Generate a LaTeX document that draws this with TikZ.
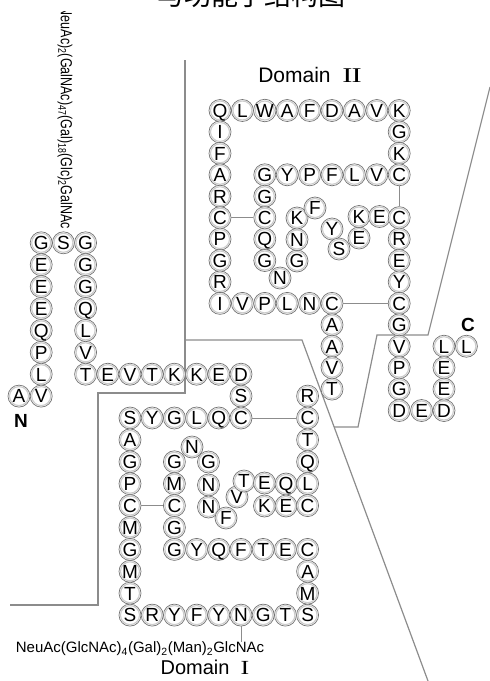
\documentclass[tikz,border=0pt]{standalone}
\usepackage{fontspec}
\usepackage{graphicx}
\setmainfont{Liberation Sans}
\newfontfamily\cjk{Noto Sans CJK SC}
\newfontfamily\serifroman{Liberation Serif}
\newfontfamily\narrowf[FakeStretch=0.78]{Liberation Sans}
\newcommand{\romtwo}{{\serifroman\scalebox{1.45}[1]{I\kern-0.6pt I}}}
\newcommand{\romone}{{\serifroman\scalebox{1.3}[1]{I}}}
\newcommand{\resid}[4]{\node[res] (#1) at (#2,#3) {#4};}
\newcommand{\dII}[4]{\node[res] (#1) at ({220+22.4*(#2)},{110.5+21.43*(#3)}) {#4};}
\newcommand{\dI}[4]{\node[res] (#1) at ({130+22.2*(#2)},{418+21.9*(#3)}) {#4};}
\tikzset{
 res/.style={circle, minimum size=22pt, inner sep=0pt, fill=white, draw=black!55, line width=0.7pt,
   font=\fontsize{19}{19}\selectfont, text height=13.6pt, text depth=0pt,
   path picture={\draw[black!20, line width=1.1pt] (path picture bounding box.center) circle (9.5pt);}},
 bnd/.style={draw=black!45, line width=1.2pt},
 ss/.style={draw=black!45, line width=0.9pt},
 lbl/.style={font=\bfseries\fontsize{19}{19}\selectfont},
}
\begin{document}
\begin{tikzpicture}[x=1pt,y=-1pt]
\useasboundingbox (0,0) rectangle (490,681);
% title (cut at top)
\node[font=\cjk\fontsize{27}{27}\selectfont, anchor=base] (title) at (251.5,5) {与功能子结构图};
% boundary lines
\coordinate (p1) at (185,60);
\coordinate (p2) at (185,393);
\coordinate (p3) at (98,393);
\coordinate (p4) at (98,605);
\coordinate (p5) at (10,605);
\coordinate (q1) at (185,340);
\coordinate (q2) at (302,340);
\coordinate (q3) at (428,681);
\coordinate (r1) at (490,87);
\coordinate (r2) at (428,335);
\coordinate (r3) at (377,335);
\coordinate (r4) at (358,427);
\coordinate (r5) at (334,427);
\draw[bnd] (p1) -- (p2) -- (p3) -- (p4) -- (p5);
\draw[bnd] (q1) -- (q2) -- (q3);
\draw[bnd] (r1) -- (r2) -- (r3) -- (r4) -- (r5);
% labels
\node[font=\fontsize{21}{21}\selectfont] (dom2) at (310,75) {Domain\ \ \romtwo};
\node[font=\fontsize{20}{20}\selectfont] (dom1) at (205,667) {Domain\ \ \romone};
\node[lbl] (nlab) at (21,421) {N};
\node[lbl] (clab) at (468,325) {C};
% glycans
\begin{scope}
\clip (0,11) rectangle (490,681);
\node[rotate=-90, anchor=east, inner sep=0pt, font=\narrowf\fontsize{16}{16}\selectfont] (oglyc) at (65,229)
  {(NeuAc)\textsubscript{2}(GalNAc)\textsubscript{47}(Gal)\textsubscript{18}(Glc)\textsubscript{2}GalNAc};
\end{scope}
\node[inner sep=0pt, font=\fontsize{15}{15}\selectfont] (nglyc) at (140,649)
  {NeuAc(GlcNAc)\textsubscript{4}(Gal)\textsubscript{2}(Man)\textsubscript{2}GlcNAc};
% ---------------- Domain II ----------------
\foreach \l [count=\i from 0] in {Q,L,W,A,F,D,A,V,K} {\dII{t\i}{\i}{0}{\l}}
\foreach \l [count=\i from 1] in {G,K,C} {\dII{rc\i}{8}{\i}{\l}}
\foreach \l [count=\i from 2] in {G,Y,P,F,L,V} {\dII{m\i}{\i}{3}{\l}}
\foreach \l [count=\i from 1] in {I,F,A,R,C,P,G,R} {\dII{lc\i}{0}{\i}{\l}}
\foreach \l [count=\i from 0] in {I,V,P,L,N,C} {\dII{bt\i}{\i}{9}{\l}}
\foreach \l [count=\i from 4] in {G,C,Q,G} {\dII{ic\i}{2}{\i}{\l}}
\resid{f2}{297}{261}{G}
\resid{f1}{280}{278}{N}
\resid{f3}{297}{239.5}{N}
\resid{f4}{297}{218}{K}
\resid{f5}{315}{208}{F}
\resid{f6}{332}{229}{Y}
\resid{f7}{339}{249}{S}
\resid{f8}{359}{238}{E}
\resid{f9}{359}{216.5}{K}
\resid{f10}{379.5}{216.5}{E}
\foreach \l [count=\i from 5] in {C,R,E,Y,C,G,V,P,G,D} {\dII{rd\i}{8}{\i}{\l}}
\dII{ee9}{9}{14}{E}
\dII{ee10}{10}{14}{D}
\foreach \l [count=\i from 11] in {L,E,E} {\dII{cc\i}{10}{\i}{\l}}
\dII{ll11}{11}{11}{L}
\foreach \l [count=\i from 10] in {A,A,V,T} {\dII{ac\i}{5}{\i}{\l}}
% ---------------- Domain I / N-terminal ----------------
\foreach \l [count=\i from 1] in {G,E,E,E,Q,P,L,V} {\dI{na\i}{-4}{\i-9}{\l}}
\dI{ns}{-3}{-8}{S}
\dI{nav}{-5}{-1}{A}
\foreach \l [count=\i from 1] in {G,G,G,Q,L,V,T} {\dI{nb\i}{-2}{\i-9}{\l}}
\foreach \l [count=\i from 1] in {E,V,T,K,K,E,D} {\dI{nr\i}{\i-2}{-2}{\l}}
\dI{sd}{5}{-1}{S}
\foreach \l [count=\i from 0] in {S,Y,G,L,Q,C} {\dI{a\i}{\i}{0}{\l}}
\foreach \l [count=\i from 1] in {A,G,P,C,M,G,M,T,S} {\dI{b\i}{0}{\i}{\l}}
\foreach \l [count=\i from 1] in {R,Y,F,Y,N,G,T,S} {\dI{c\i}{\i}{9}{\l}}
\foreach \l [count=\i from 6] in {C,A,M} {\dI{d\i}{8}{\i}{\l}}
\foreach \l [count=\i from 2] in {G,Y,Q,F,T,E} {\dI{e\i}{\i}{6}{\l}}
\foreach \l [count=\i from 2] in {G,M,C,G} {\dI{h\i}{2}{\i}{\l}}
\resid{g1}{192}{447}{N}
\resid{g2}{208.5}{462}{G}
\resid{g3}{208.5}{485}{N}
\resid{g4}{208.5}{507}{N}
\resid{g5}{226}{518}{F}
\resid{g6}{237}{497}{V}
\resid{g7}{244}{481}{T}
\resid{g8}{264.5}{483}{E}
\resid{g9}{286}{484}{Q}
\resid{g10}{264.5}{506}{K}
\resid{g11}{286}{506}{E}
\foreach \l [count=\i from 1] in {R,C,T,Q,L,C} {\dI{k\i}{8}{\i-2}{\l}}
% ---------------- connectors ----------------
\draw[ss] (rc3) -- (rd5);
\draw[ss] (lc5) -- (ic5);
\draw[ss] (bt5) -- (rd9);
\draw[ss] (a5) -- (k2);
\draw[ss] (b4) -- (h4);
\draw[ss] (c5.south) -- (c5.south |- nglyc.north);
\end{tikzpicture}
\end{document}
